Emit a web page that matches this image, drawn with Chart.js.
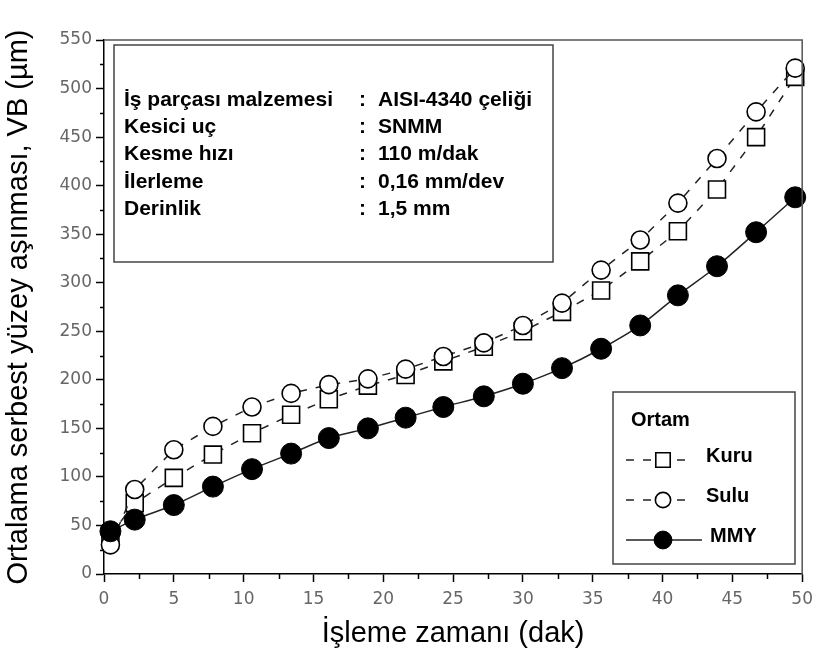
<!DOCTYPE html>
<html>
<head>
<meta charset="utf-8">
<script src="https://cdn.jsdelivr.net/npm/chart.js@4/dist/chart.umd.min.js"></script>
<style>
  html, body { margin: 0; padding: 0; background: #fff; }
  #wrap { width: 820px; height: 657px; }
</style>
</head>
<body>
<div id="wrap"><canvas id="chart" width="820" height="657"></canvas></div>
<script>
// işleme zamanı (dak)
const times = [0.46, 2.2, 5.0, 7.8, 10.6, 13.4, 16.1, 18.9, 21.6, 24.3, 27.2, 30.0, 32.8, 35.6, 38.4, 41.1, 43.9, 46.7, 49.5];
// VB (µm) for each ortam
const kuru = [40, 73, 99, 123, 145, 164, 180, 194, 205, 219, 234, 250, 270, 292, 322, 353, 396, 450, 512];
const sulu = [30, 87, 128, 152, 172, 186, 195, 201, 211, 224, 238, 256, 279, 313, 344, 382, 428, 476, 521];
const mmy  = [44, 56, 71, 90, 108, 124, 140, 150, 161, 172, 183, 196, 212, 232, 256, 287, 317, 352, 388];

const seriesNames = ["Kuru", "Sulu", "MMY"];
const legendTitle = "Ortam";

const infoLabels = ["İş parçası malzemesi", "Kesici uç", "Kesme hızı", "İlerleme", "Derinlik"];
const infoValues = ["AISI-4340 çeliği", "SNMM", "110 m/dak", "0,16 mm/dev", "1,5 mm"];

const FONT = "'Liberation Sans', Arial, sans-serif";
const TICKFONT = "'DejaVu Sans', Verdana, sans-serif";

const toPoints = ys => times.map((t, i) => ({ x: t, y: ys[i] }));

// kutular, minor tikler, çerçeve
const extras = {
  id: "extras",
  afterDraw(chart) {
    const { ctx, chartArea: a, scales } = chart;
    const xs = scales.x, ys = scales.y;
    ctx.save();

    // minor ticks
    ctx.strokeStyle = "#000";
    ctx.lineWidth = 1.5;
    ctx.beginPath();
    for (let v = 25; v < 550; v += 50) {
      const y = Math.round(ys.getPixelForValue(v)) + 0.5;
      ctx.moveTo(a.left, y); ctx.lineTo(a.left - 4, y);
    }
    for (let v = 2.5; v < 50; v += 5) {
      const x = Math.round(xs.getPixelForValue(v)) + 0.5;
      ctx.moveTo(x, a.bottom); ctx.lineTo(x, a.bottom + 5);
    }
    ctx.stroke();

    // top / right frame
    ctx.strokeStyle = "#555";
    ctx.lineWidth = 1.5;
    ctx.beginPath();
    ctx.moveTo(a.left, a.top); ctx.lineTo(a.right, a.top); ctx.lineTo(a.right, a.bottom);
    ctx.stroke();

    // info box
    ctx.fillStyle = "#fff";
    ctx.fillRect(114, 45, 439, 217);
    ctx.strokeStyle = "#444";
    ctx.lineWidth = 1.5;
    ctx.strokeRect(114, 45, 439, 217);
    ctx.fillStyle = "#000";
    ctx.font = "bold 21px " + FONT;
    ctx.textBaseline = "middle";
    infoLabels.forEach((lab, i) => {
      const y = 100 + i * 27.3;
      ctx.fillText(lab, 124, y);
      ctx.fillText(":", 359, y);
      ctx.fillText(infoValues[i], 378, y);
    });

    // legend
    ctx.fillStyle = "#fff";
    ctx.fillRect(613, 392, 182, 172);
    ctx.strokeStyle = "#444";
    ctx.strokeRect(613, 392, 182, 172);
    ctx.fillStyle = "#000";
    ctx.font = "bold 20px " + FONT;
    ctx.fillText(legendTitle, 631, 420);
    chart.data.datasets.forEach((ds, i) => {
      const y = 460 + i * 40;
      ctx.strokeStyle = "#222";
      ctx.lineWidth = 1.5;
      ctx.setLineDash(ds.borderDash || []);
      ctx.beginPath();
      ctx.moveTo(626, y); ctx.lineTo(ds.borderDash ? 690 : 702, y);
      ctx.stroke();
      ctx.setLineDash([]);
      ctx.fillStyle = ds.pointBackgroundColor;
      ctx.strokeStyle = "#000";
      ctx.lineWidth = ds.pointBorderWidth;
      Chart.helpers.drawPoint(ctx, { pointStyle: ds.pointStyle, radius: ds.pointRadius * 0.85, borderWidth: ds.pointBorderWidth }, 663, y);
      ctx.fillStyle = "#000";
      ctx.fillText(ds.label, ds.borderDash ? 706 : 710, y - 4);
    });
    ctx.restore();
  }
};

new Chart(document.getElementById("chart"), {
  type: "line",
  data: {
    datasets: [
      {
        label: seriesNames[0], data: toPoints(kuru), order: 2,
        borderColor: "#222", borderWidth: 1.5, borderDash: [8, 9],
        pointStyle: "rect", pointRadius: 12, pointBorderWidth: 1.6,
        pointBorderColor: "#000", pointBackgroundColor: "#fff", clip: false
      },
      {
        label: seriesNames[1], data: toPoints(sulu), order: 1,
        borderColor: "#222", borderWidth: 1.5, borderDash: [8, 9],
        pointStyle: "circle", pointRadius: 9, pointBorderWidth: 1.6,
        pointBorderColor: "#000", pointBackgroundColor: "#fff", clip: false
      },
      {
        label: seriesNames[2], data: toPoints(mmy), order: 0,
        borderColor: "#222", borderWidth: 1.5, cubicInterpolationMode: "monotone",
        pointStyle: "circle", pointRadius: 10.5, pointBorderWidth: 1,
        pointBorderColor: "#000", pointBackgroundColor: "#000", clip: false
      }
    ]
  },
  options: {
    responsive: false,
    animation: false,
    events: [],
    layout: { padding: { top: 40, right: 15, left: 0, bottom: 0 } },
    plugins: { legend: { display: false }, tooltip: { enabled: false } },
    scales: {
      x: {
        type: "linear", min: 0, max: 50,
        ticks: { stepSize: 5, color: "#666", padding: 7, font: { family: TICKFONT, size: 17 } },
        grid: { drawOnChartArea: false, drawTicks: true, tickLength: 8, tickColor: "#000", tickWidth: 1.5 },
        border: { color: "#000", width: 1.5 },
        title: { display: true, text: "İşleme zamanı (dak)", color: "#000", font: { family: FONT, size: 29 }, padding: { top: 0, bottom: 6 } },
        afterFit: s => { s.height = 83; }
      },
      y: {
        type: "linear", min: 0, max: 550,
        ticks: { stepSize: 50, color: "#666", padding: 4, font: { family: TICKFONT, size: 17 } },
        grid: { drawOnChartArea: false, drawTicks: true, tickLength: 8, tickColor: "#000", tickWidth: 1.5 },
        border: { color: "#000", width: 1.5 },
        title: { display: true, text: "Ortalama serbest yüzey aşınması, VB (µm)", color: "#000", font: { family: FONT, size: 29 }, padding: { top: 2, bottom: 0 } },
        afterFit: s => { s.width = 104; }
      }
    }
  },
  plugins: [extras]
});
</script>
</body>
</html>
